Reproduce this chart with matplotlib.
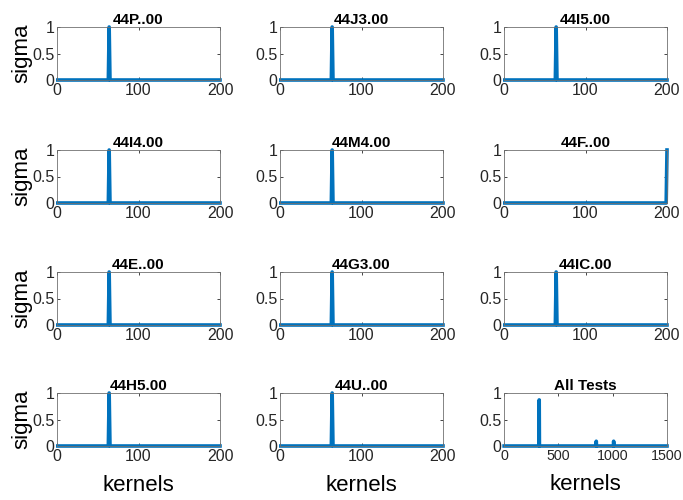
import numpy as np
from matplotlib import pyplot as plt

plt.rcParams['font.family'] = ['Liberation Sans', 'DejaVu Sans']

# Названия тестов и положения пиков sigma
titles = ['44P..00', '44J3.00', '44I5.00',
          '44I4.00', '44M4.00', '44F..00',
          '44E..00', '44G3.00', '44IC.00',
          '44H5.00', '44U..00']
peak_kernels = [64, 64, 64,
                64, 64, 200,
                64, 64, 64,
                64, 64]
peak_values = [1, 1, 1, 1, 1, 1, 1, 1, 1, 1, 1]
n_kernels = 200

# Все тесты вместе
all_n_kernels = 1500
all_peaks = [324, 849, 1009]
all_values = [0.87, 0.09, 0.09]

blue = '#0072BD'
grey = '#262626'

fig = plt.figure(figsize=(6.83, 5.0), dpi=100)

lefts = [57, 280, 504]
tops = [27, 150, 272, 393]
w_px, h_px = 163, 53
W, H = 683, 500


def make_axes(r, c):
    ax = fig.add_axes([lefts[c] / W, 1 - (tops[r] + h_px) / H, w_px / W, h_px / H])
    ax.tick_params(direction='in', length=2.5, width=0.6, labelsize=11.5,
                   colors=grey, top=True, right=True, pad=2)
    for s in ax.spines.values():
        s.set_color('#707070')
        s.set_linewidth(0.6)
    ax.set_ylim(0, 1)
    ax.set_yticks([0, 0.5, 1])
    ax.set_yticklabels(['0', '0.5', '1'])
    return ax


for i, t in enumerate(titles):
    r, c = divmod(i, 3)
    ax = make_axes(r, c)
    x = np.arange(1, n_kernels + 1)
    y = np.zeros(n_kernels)
    y[peak_kernels[i] - 1] = peak_values[i]
    ax.plot(x, y, color=blue, lw=2.6, clip_on=False)
    ax.set_xlim(0, n_kernels)
    ax.set_xticks([0, 100, 200])
    ax.set_title(t, fontsize=11, fontweight='bold', pad=2)
    if c == 0:
        ax.set_ylabel('sigma', fontsize=16, labelpad=0)
    if r == 3:
        ax.set_xlabel('kernels', fontsize=16, labelpad=8)

ax = make_axes(3, 2)
x = np.arange(1, all_n_kernels + 1)
y = np.zeros(all_n_kernels)
for p, v in zip(all_peaks, all_values):
    y[p - 1] = v
ax.plot(x, y, color=blue, lw=2.6, clip_on=False)
ax.set_xlim(0, all_n_kernels)
ax.set_xticks([0, 500, 1000, 1500])
ax.tick_params(axis='x', labelsize=10.3)
ax.set_title('All Tests', fontsize=11, fontweight='bold', pad=2)
ax.set_xlabel('kernels', fontsize=16, labelpad=8)

plt.savefig('out.png', dpi=100)
